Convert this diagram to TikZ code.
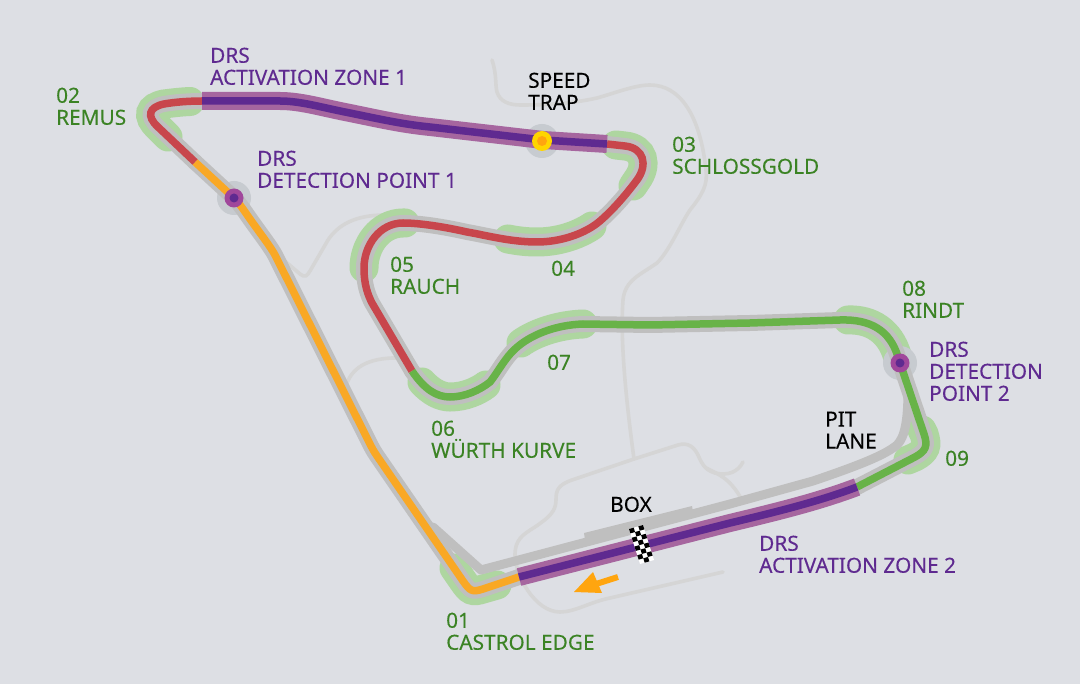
\documentclass[tikz,border=0pt]{standalone}
\usepackage{fontspec}
\setmainfont{Noto Sans}[FakeBold=0.15]
\definecolor{bgcol}{HTML}{DDDFE4}
\definecolor{roadcol}{HTML}{D5D5D5}
\definecolor{trackcol}{HTML}{BFBFBF}
\definecolor{kerbcol}{HTML}{AED6A0}
\definecolor{fastcol}{HTML}{F9A825}
\definecolor{midcol}{HTML}{C8464C}
\definecolor{slowcol}{HTML}{68B348}
\definecolor{drscol}{HTML}{5F2A90}
\definecolor{drslight}{HTML}{A6669F}
\definecolor{drsring}{HTML}{A0479B}
\definecolor{halocol}{HTML}{C7CBD0}
\definecolor{trapcol}{HTML}{FFD500}
\definecolor{arrowcol}{HTML}{FFA50F}
\definecolor{bendtext}{HTML}{3B8324}
\tikzset{
  road/.style={draw=roadcol,line width=3.6pt,line cap=round},
  kerb/.style={draw=kerbcol,line width=29pt,line cap=round},
  track/.style={draw=trackcol,line width=16pt,line cap=round},
  sector/.style={line width=7.5pt},
  zone/.style={draw=drslight,line width=18pt},
  zonecore/.style={draw=drscol,line width=7.5pt},
  tag/.style={anchor=north west,inner sep=0pt,align=left,font=\fontsize{20.8}{22}\selectfont},
  bendtag/.style={tag,text=bendtext},
  drstag/.style={tag,text=drscol},
  plaintag/.style={tag,text=black},
}
\begin{document}
\begin{tikzpicture}[x=1pt,y=-1pt]
\useasboundingbox (0,0) rectangle (1080,684);
\fill[bgcol] (0,0) rectangle (1080,684);

% roads
\draw[road] (492,60) .. controls (497,75) and (495,85) .. (497,92) .. controls (500,102) and (510,105) .. (520,105) .. controls (545,105) and (570,104) .. (597,98) .. controls (615,93) and (635,85) .. (650,85) .. controls (680,85) and (700,115) .. (706,170) .. controls (708,185) and (702,195) .. (690,210) .. controls (680,225) and (670,250) .. (657,263) .. controls (640,275) and (625,280) .. (623,300) .. controls (620,340) and (626,400) .. (634,459);
\draw[road] (634,459) -- (572,480) .. controls (558,485) and (556,490) .. (556,500) .. controls (556,512) and (548,518) .. (535,527) .. controls (522,535) and (515,540) .. (515,555) .. controls (515,575) and (535,612) .. (560,612) .. controls (575,612) and (590,602) .. (610,598) -- (723,572);
\draw[road] (634,459) -- (678,445) .. controls (688,442) and (694,447) .. (698,455) .. controls (702,464) and (705,470) .. (715,473) .. controls (728,476) and (738,472) .. (743,462);
\draw[road] (706,468) .. controls (718,474) and (730,478) .. (742,500);
\draw[road] (272,250) -- (300,274) .. controls (305,278) and (307,276) .. (310,271) -- (328,240) .. controls (338,225) and (355,215) .. (385,215);
\draw[road] (347,383) .. controls (352,370) and (365,357) .. (400,358);

% kerbs
\draw[kerb] (190,101.5) .. controls (180,102) and (172,103) .. (164,104) .. controls (149,107) and (146,116) .. (158,127) -- (168,137);
\draw[kerb] (616,145) -- (625,146) .. controls (644,148) and (648,165) .. (637,180) -- (633,186);
\draw[kerb] (508,239) .. controls (518,241) and (527,242) .. (537,242) .. controls (557,242) and (577,236) .. (592,226);
\draw[kerb] (405,223) -- (403,223) .. controls (380,223) and (364,245) .. (364,268);
\draw[kerb] (422,382) .. controls (431,392) and (441,397) .. (450,397) .. controls (465,397) and (478,391) .. (486,385);
\draw[kerb] (521,343) .. controls (535,333) and (558,325) .. (583,324);
\draw[kerb] (848,320) .. controls (872,319) and (890,332) .. (897,355);
\draw[kerb] (922,430) -- (924,434) .. controls (928,446) and (926,451) .. (915,457) -- (908,460);
\draw[kerb] (454,568) -- (463,581) .. controls (470,591) and (472,592.5) .. (483,589) -- (497,585);

% pit lane
\draw[track,line width=9pt,line join=round] (433,527) -- (481,570) -- (730,504) -- (813,481) .. controls (860,465) and (885,455) .. (897,445) .. controls (905,437) and (908,420) .. (908,390) -- (905,375);
\fill[trackcol] (584,533) -- (692,506) -- (693,512) -- (585,540) -- cycle;

% markers under the track
\foreach \x/\y in {234/198,900/363,542/141}
  \fill[halocol] (\x,\y) circle(17pt);

% track
\def\sectorone{(519,577) -- (483,589) .. controls (472,592.5) and (470,591) .. (463,581) -- (377,456) .. controls (373,450) and (372,448) .. (369,442) -- (275,255) .. controls (270,246) and (262,236) .. (250,219) .. controls (245,212) and (240,204) .. (234,198) -- (195,162)}
\def\sectortwo{(195,162) -- (158,127) .. controls (146,116) and (149,107) .. (164,104) .. controls (175,102) and (190,101) .. (202,101)}
\def\zoneone{(202,101) -- (280,101) .. controls (300,101) and (320,107) .. (345,112) .. controls (375,118) and (400,124) .. (430,127) -- (543,140) -- (607,144)}
\def\sectorthree{(607,144) -- (625,146) .. controls (644,148) and (648,165) .. (637,180) .. controls (628,192) and (615,208) .. (600,221) .. controls (585,234) and (560,242) .. (537,242) .. controls (510,242) and (485,235) .. (467,232) .. controls (445,227) and (420,223) .. (403,223) .. controls (380,223) and (364,245) .. (364,268) .. controls (364,285) and (368,295) .. (372,303) -- (412,371)}
\def\sectorfour{(412,371) .. controls (425,390) and (437,397) .. (450,397) .. controls (465,397) and (480,390) .. (490,382) .. controls (498,372) and (505,358) .. (515,349) .. controls (530,335) and (555,325) .. (583,324) -- (650,325) -- (750,323) -- (840,320) .. controls (870,319) and (890,330) .. (898,357) -- (924,434) .. controls (928,446) and (926,451) .. (915,457) -- (857,487)}
\def\zonetwo{(857,487) .. controls (820,501) and (780,511) .. (730,523) -- (519,577)}
\draw[track] \sectorone;
\draw[track] \sectortwo;
\draw[track] \sectorthree;
\draw[track] \sectorfour;
\draw[track] \zoneone;
\draw[track] \zonetwo;
\draw[sector,draw=fastcol] \sectorone;
\draw[sector,draw=midcol] \sectortwo;
\draw[sector,draw=midcol] \sectorthree;
\draw[sector,draw=slowcol] \sectorfour;
\draw[zone] \zoneone;
\draw[zonecore] \zoneone;
\draw[zone] \zonetwo;
\draw[zonecore] \zonetwo;

% markers
\foreach \x/\y in {234/198,900/363}{
  \fill[drsring] (\x,\y) circle(9.5pt);
  \fill[drscol] (\x,\y) circle(4.5pt);
}
\fill[trapcol] (542,141) circle(10pt);
\fill[arrowcol] (542,141) circle(5pt);

% start line
\begin{scope}[shift={(629,529)},x={(4.67pt,1.33pt)},y={(1.375pt,-4.375pt)}]
\fill[white] (0,0) -- (3,0) -- (3,8) -- (0,8) -- cycle;
\foreach \i in {0,...,2}
  \foreach \j in {0,...,7}{
    \pgfmathtruncatemacro\odd{mod(\i+\j,2)}
    \ifnum\odd=0
      \fill[black] (\i,\j) -- (\i+1,\j) -- (\i+1,\j+1) -- (\i,\j+1) -- cycle;
    \fi
  }
\end{scope}

% direction
\draw[line width=6pt,draw=arrowcol] (618,577) -- (596,584);
\fill[arrowcol] (574,592) -- (593,572) -- (602,593) -- cycle;

% labels
\node[drstag] (zone-1) at (210,47.5) {DRS\\ACTIVATION ZONE 1};
\node[drstag] (point-1) at (257,150.5) {DRS\\DETECTION POINT 1};
\node[drstag] (zone-2) at (759,535.5) {DRS\\ACTIVATION ZONE 2};
\node[drstag] (point-2) at (929,341.5) {DRS\\DETECTION\\POINT 2};
\node[plaintag] (trap) at (528,72.5) {SPEED\\TRAP};
\node[plaintag] (pit) at (825,411.5) {PIT\\LANE};
\node[plaintag] (box) at (610,496.5) {BOX};
\node[bendtag] (bend-1) at (446,612.5) {01\\CASTROL EDGE};
\node[bendtag] (bend-2) at (56,87.5) {02\\REMUS};
\node[bendtag] (bend-3) at (672,136.5) {03\\SCHLOSSGOLD};
\node[bendtag] (bend-4) at (551,260.5) {04};
\node[bendtag] (bend-5) at (390,256.5) {05\\RAUCH};
\node[bendtag] (bend-6) at (431,420.5) {06\\WÜRTH KURVE};
\node[bendtag] (bend-7) at (547,354.5) {07};
\node[bendtag] (bend-8) at (902,280.5) {08\\RINDT};
\node[bendtag] (bend-9) at (945,450.5) {09};
\end{tikzpicture}
\end{document}
